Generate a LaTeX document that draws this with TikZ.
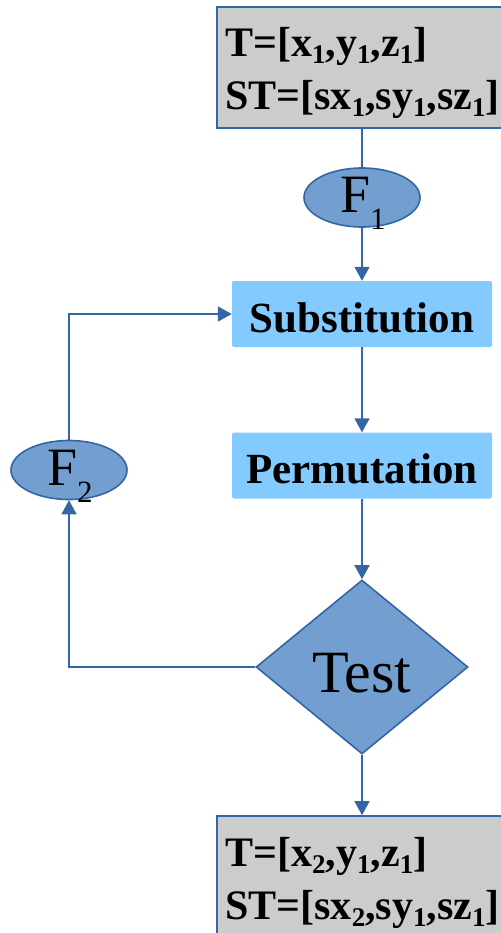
\documentclass[tikz,border=0pt]{standalone}
\usepackage{fontspec}
\setmainfont{Liberation Serif}
\usetikzlibrary{arrows.meta,shapes.geometric}

\definecolor{edgeblue}{HTML}{3465A4}
\definecolor{shapeblue}{HTML}{729FCF}
\definecolor{boxblue}{HTML}{83CAFF}
\definecolor{boxgray}{HTML}{CCCCCC}

% lowered indices: small ones for the state boxes, large ones for the keys
\newcommand\regidx[1]{\raisebox{-7pt}{\fontsize{27}{27}\selectfont #1}}
\newcommand\keyidx[1]{\raisebox{-17pt}{\fontsize{31}{31}\selectfont #1}}

\tikzset{
  statebox/.style={draw=edgeblue, fill=boxgray, line width=1.6pt,
    minimum width=293pt, minimum height=121pt, inner sep=0pt},
  statetext/.style={anchor=base west, inner sep=0pt,
    font=\fontsize{42}{42}\selectfont\bfseries},
  stagebox/.style={fill=boxblue, rounded corners=2pt,
    minimum width=260pt, minimum height=66pt, inner sep=0pt},
  stagetext/.style={anchor=base, inner sep=0pt,
    font=\fontsize{43}{43}\selectfont\bfseries},
  keyshape/.style={ellipse, draw=edgeblue, fill=shapeblue, line width=1.6pt,
    minimum width=116pt, minimum height=59pt, inner sep=0pt},
  keytext/.style={anchor=base west, inner sep=0pt,
    font=\fontsize{54}{54}\selectfont},
  checkshape/.style={diamond, draw=edgeblue, fill=shapeblue, line width=1.6pt,
    minimum width=212pt, minimum height=174pt, inner sep=0pt},
  link/.style={draw=edgeblue, line width=1.6pt},
  flow/.style={link, -{Triangle[width=15pt,length=14pt]}},
}

\begin{document}
\begin{tikzpicture}[x=1pt,y=-1pt]
  \useasboundingbox (0,0) rectangle (500,933);

  % initial state
  \node[statebox] (top) at (363.5,67.5) {};
  \node[statetext] (topT) at (225,57) {T=[x\regidx{1},y\regidx{1},z\regidx{1}]};
  \node[statetext] (topST) at (225,110) {ST=[sx\regidx{1},sy\regidx{1},sz\regidx{1}]};

  % first key
  \node[keyshape] (f1) at (362,197.5) {};
  \node[keytext] (f1t) at (340,213) {F\keyidx{1}};

  % round stages
  \node[stagebox] (sub) at (362,314) {};
  \node[stagetext] (subt) at (362,332) {Substitution};
  \node[stagebox] (perm) at (362,465.5) {};
  \node[stagetext] (permt) at (362,483) {Permutation};

  % decision
  \node[checkshape] (test) at (362,667) {};
  \node[anchor=base, inner sep=0pt, font=\fontsize{60}{60}\selectfont] (testt) at (362,692) {Test};

  % second key
  \node[keyshape] (f2) at (69,470) {};
  \node[keytext] (f2t) at (47,485) {F\keyidx{2}};

  % resulting state
  \node[statebox] (bot) at (363.5,876.5) {};
  \node[statetext] (botT) at (225,866) {T=[x\regidx{2},y\regidx{1},z\regidx{1}]};
  \node[statetext] (botST) at (225,919) {ST=[sx\regidx{2},sy\regidx{1},sz\regidx{1}]};

  % connectors
  \draw[link] (f1.north |- top.south) -- (f1.north);
  \draw[flow] (f1.south) -- (sub.north);
  \draw[flow] (sub.south) -- (perm.north);
  \draw[flow] (perm.south) -- (test.north);
  \draw[flow] (test.south) -- (test.south |- bot.north);
  \draw[flow] (test.west) -| (f2.south);
  \draw[flow] (f2.north) |- (sub.west);
\end{tikzpicture}
\end{document}
